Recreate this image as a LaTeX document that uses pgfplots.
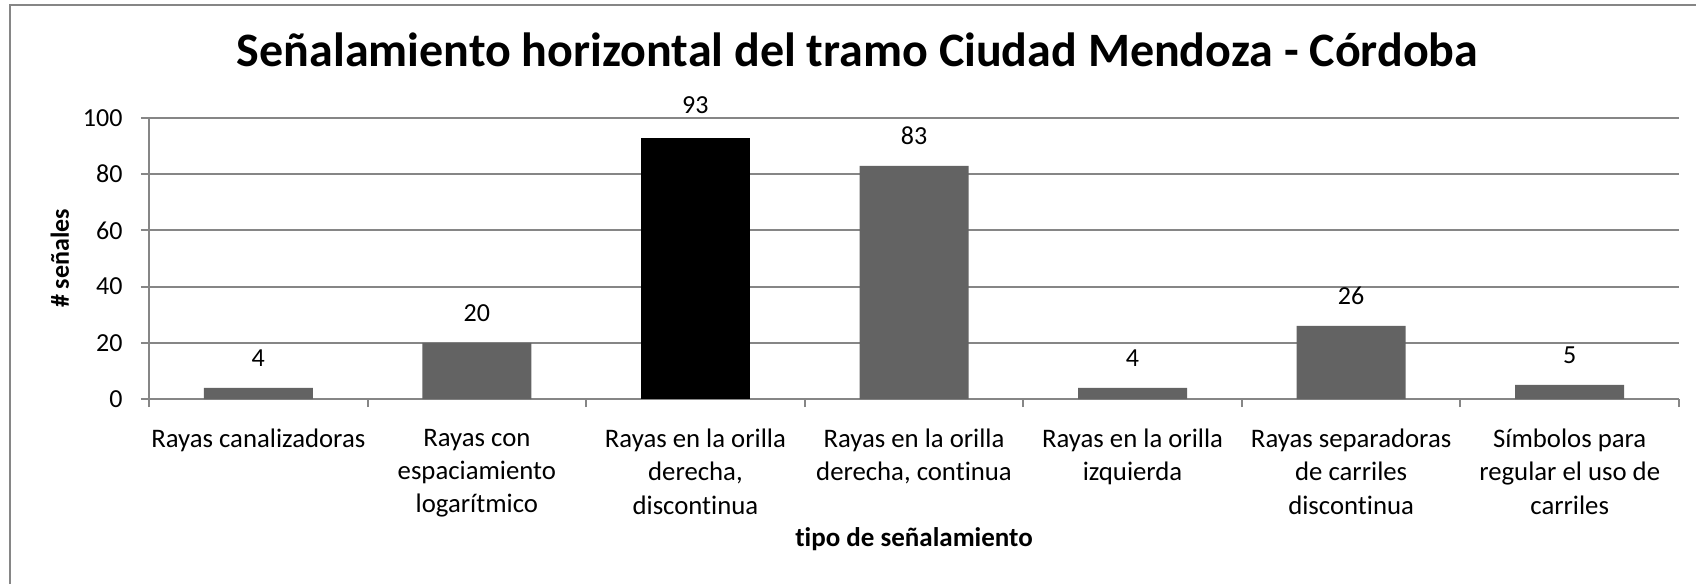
\documentclass[border=0pt]{standalone}
\usepackage{fontspec}
\setmainfont{Carlito}[Ligatures=NoCommon]
\usepackage{pgfplots}
\pgfplotsset{compat=1.18}
\definecolor{ejes}{RGB}{134,134,134}
\definecolor{barra}{RGB}{99,99,99}
\newcommand{\base}{\fontsize{10.4}{13.2}\selectfont}
\begin{document}
\begin{tikzpicture}
\useasboundingbox (-59.6pt,-74pt) rectangle (618.8pt,159.6pt);
% marco del grafico (solo se ven el lado izquierdo y el superior)
\draw[ejes, line width=0.8pt] (-55.6pt,-74pt) -- (-55.6pt,157.6pt) -- (618.8pt,157.6pt);
\begin{axis}[
  at={(0,0)}, anchor=south west,
  scale only axis,
  width=612pt, height=112.4pt,
  ybar, bar width=43.6pt, bar shift=0pt,
  xmin=-0.5, xmax=6.5,
  ymin=0, ymax=100,
  xtick={-0.5,0.5,...,6.5},
  x tick label as interval,
  xticklabels={
    {Rayas canalizadoras},
    {Rayas con\\espaciamiento\\logarítmico},
    {Rayas en la orilla\\derecha,\\discontinua},
    {Rayas en la orilla\\derecha, continua},
    {Rayas en la orilla\\izquierda},
    {Rayas separadoras\\de carriles\\discontinua},
    {Símbolos para\\regular el uso de\\carriles}},
  ytick={0,20,...,100},
  axis x line*=bottom, axis y line*=left,
  axis line style={ejes, line width=0.8pt, -},
  tick style={ejes, line width=0.8pt},
  tick align=outside, major tick length=3.2pt,
  ymajorgrids, grid style={ejes, line width=0.8pt},
  /pgf/number format/assume math mode=true,
  xticklabel style={font=\fontsize{10.7}{13.3}\selectfont, align=center, anchor=north, inner sep=0pt, yshift=-8.6pt},
  yticklabel style={font=\base, anchor=east, inner sep=0pt, xshift=-7.2pt},
  nodes near coords,
  nodes near coords style={font=\base, anchor=base, inner sep=0pt, yshift=8.4pt, text=black},
  clip=false,
]
\addplot[fill=barra, draw=none] coordinates {
  (0,4) (1,20) (3,83) (4,4) (5,26) (6,5)
};
% la barra destacada, en negro
\addplot[fill=black, draw=none,
  every node near coord/.append style={yshift=1.4pt}] coordinates {
  (2,93)
};
\end{axis}
\node[font=\bfseries\fontsize{19.2}{23}\selectfont, anchor=base] at (283.4pt,132.9pt)
  {Señalamiento horizontal del tramo Ciudad Mendoza - Córdoba};
\node[font=\bfseries\base, rotate=90, anchor=base] at (-32pt,56.2pt) {\# señales};
\node[font=\bfseries\fontsize{10.8}{13}\selectfont, anchor=base] at (306pt,-59.1pt) {tipo de señalamiento};
\end{tikzpicture}
\end{document}
